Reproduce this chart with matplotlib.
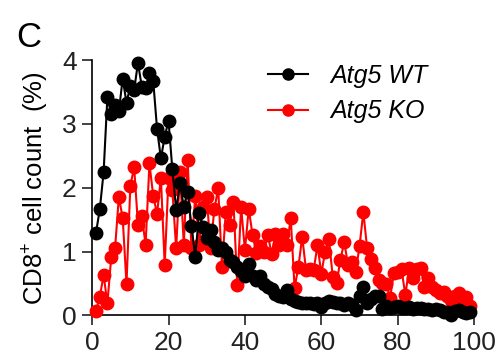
import numpy as np
import matplotlib
matplotlib.use('Agg')
import matplotlib.pyplot as plt

plt.rcParams['font.family'] = ['Liberation Sans', 'DejaVu Sans']
plt.rcParams['mathtext.fontset'] = 'custom'
plt.rcParams['mathtext.rm'] = 'Liberation Sans'
plt.rcParams['mathtext.it'] = 'Liberation Sans:italic'

# data
x = np.arange(1, 100)
wt = [1.29, 1.66, 2.24, 3.42, 3.16, 3.29, 3.20, 3.71, 3.33, 3.60,
      3.53, 3.96, 3.58, 3.56, 3.80, 3.67, 2.92, 2.46, 2.80, 3.05,
      2.29, 1.65, 2.07, 1.70, 1.94, 1.40, 0.92, 1.60, 1.39, 1.21,
      1.33, 1.15, 1.02, 1.05, 1.00, 0.87, 0.83, 0.76, 0.70, 0.61,
      0.80, 0.62, 0.55, 0.61, 0.49, 0.45, 0.41, 0.34, 0.30, 0.28,
      0.40, 0.25, 0.22, 0.21, 0.20, 0.19, 0.20, 0.18, 0.20, 0.13,
      0.20, 0.22, 0.21, 0.19, 0.20, 0.17, 0.20, 0.17, 0.08, 0.30,
      0.44, 0.20, 0.25, 0.30, 0.30, 0.10, 0.15, 0.12, 0.13, 0.14,
      0.12, 0.12, 0.13, 0.10, 0.12, 0.11, 0.10, 0.10, 0.09, 0.10,
      0.08, 0.06, 0.05, 0.00, 0.07, 0.08, 0.06, 0.04, 0.06]
ko = [0.07, 0.29, 0.63, 0.19, 0.91, 1.05, 1.86, 1.52, 0.49, 2.03,
      2.32, 1.42, 1.55, 1.11, 2.38, 1.87, 1.59, 2.16, 0.79, 2.16,
      1.96, 1.05, 2.24, 1.11, 2.44, 1.05, 1.87, 1.10, 1.70, 1.86,
      1.05, 1.67, 1.99, 0.76, 1.62, 1.42, 1.78, 0.47, 1.70, 1.02,
      1.67, 1.26, 0.98, 1.08, 1.00, 1.26, 0.96, 1.28, 1.10, 1.28,
      1.10, 1.52, 0.43, 0.76, 1.23, 0.71, 0.72, 0.71, 1.10, 0.65,
      1.00, 1.19, 0.60, 0.50, 0.87, 1.15, 0.79, 0.84, 0.68, 1.08,
      1.62, 1.05, 0.89, 0.74, 0.55, 0.50, 0.49, 0.27, 0.66, 0.68,
      0.72, 0.32, 0.74, 0.58, 0.72, 0.74, 0.45, 0.58, 0.45, 0.40,
      0.35, 0.37, 0.30, 0.24, 0.30, 0.35, 0.22, 0.29, 0.14]
xticks = [0, 20, 40, 60, 80, 100]
yticks = [0, 1, 2, 3, 4]

fig = plt.figure(figsize=(4.98, 3.6), dpi=100)
ax = fig.add_axes([0.185, 0.124, 0.767, 0.709])

lk, = ax.plot(x, ko, color='#ff0000', lw=1.5, marker='o', ms=9, clip_on=False, zorder=3)
lw, = ax.plot(x, wt, color='black', lw=1.5, marker='o', ms=9, clip_on=False, zorder=4)

ax.set_xlim(0, 100)
ax.set_ylim(0, 4)
ax.set_xticks(xticks)
ax.set_yticks(yticks)
for s in ['top', 'right']:
    ax.spines[s].set_visible(False)
for s in ['left', 'bottom']:
    ax.spines[s].set_linewidth(1.2)
ax.tick_params(length=7, width=1.2, labelsize=19, pad=4, colors='#222222')
ax.set_ylabel('CD8$^{+}$ cell count  (%)', fontsize=18.5, labelpad=8)

leg = ax.legend([lw, lk], ['Atg5 WT', 'Atg5 KO'], loc='upper left',
                bbox_to_anchor=(0.402, 1.072), frameon=False, handlelength=1.6,
                handletextpad=0.9, labelspacing=0.45,
                prop={'size': 18, 'style': 'italic'})
for h in leg.legend_handles:
    h.set_markersize(8)

fig.text(0.033, 0.87, 'C', fontsize=25)

fig.savefig('out.png', dpi=100)
